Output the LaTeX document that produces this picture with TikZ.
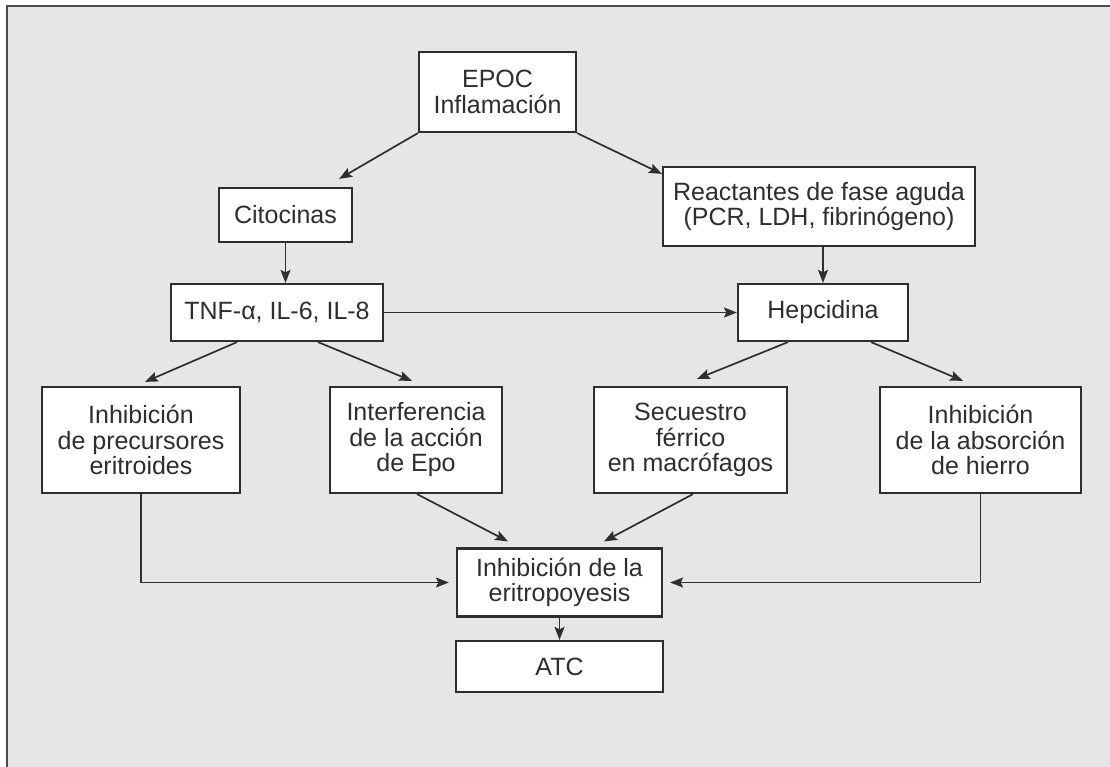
\documentclass[tikz,border=0pt]{standalone}
\usepackage{fontspec}
\setmainfont{Liberation Sans}
\usetikzlibrary{arrows.meta}
\definecolor{bggray}{HTML}{E6E6E6}
\definecolor{framegray}{HTML}{4A4A4A}
\definecolor{ink}{HTML}{2E2E2E}
\begin{document}
\begin{tikzpicture}[x=1pt,y=-1pt,
  box/.style={draw=ink, line width=2.2pt, fill=white, text=ink, align=center,
    inner sep=0pt, font=\fontsize{25}{25.5}\selectfont},
  conn/.style={draw=ink, line width=1.7pt,
    -{Stealth[length=13pt,width=10pt,inset=2.5pt]}}]
\useasboundingbox (0,0) rectangle (1110,767);
\fill[white] (0,0) rectangle (1110,767);
\fill[bggray] (7,6) rectangle (1112,769);
\draw[framegray, line width=2.5pt] (7,769) -- (7,6) -- (1112,6);

\node[box, minimum width=157pt, minimum height=80pt] (epoc) at (497.5,92) {EPOC\\Inflamación};
\node[box, minimum width=133pt, minimum height=54pt] (cito) at (285.5,215) {Citocinas};
\node[box, minimum width=312pt, minimum height=79pt] (react) at (819,206.5) {Reactantes de fase aguda\\(PCR, LDH, fibrinógeno)};
\node[box, minimum width=212pt, minimum height=57pt] (tnf) at (277,312.5) {TNF-α, IL-6, IL-8};
\node[box, minimum width=170pt, minimum height=57pt] (hep) at (823,312.5) {Hepcidina};
\node[box, minimum width=198pt, minimum height=106pt] (inh1) at (141,440) {Inhibición\\de precursores\\eritroides};
\node[box, minimum width=172pt, minimum height=106pt] (interf) at (416,440) {Interferencia\\de la acción\\de Epo};
\node[box, minimum width=193pt, minimum height=106pt] (secu) at (690.5,440) {Secuestro\\férrico\\en macrófagos};
\node[box, minimum width=201pt, minimum height=106pt] (abs) at (980.5,440) {Inhibición\\de la absorción\\de hierro};
\node[box, minimum width=205pt, minimum height=68pt] (eri) at (559.5,582.5) {Inhibición de la\\eritropoyesis};
\node[box, minimum width=207pt, minimum height=51pt] (atc) at (559.5,666.5) {ATC};

\draw[conn] (epoc.south west) -- ([xshift=-14pt,yshift=8pt]cito.north east);
\draw[conn] (epoc.south east) -- ([yshift=-8pt]react.north west);
\draw[conn] (cito.south) -- (cito.south |- tnf.north);
\draw[conn] (hep.north |- react.south) -- (hep.north);
\draw[conn] (tnf.east) -- (hep.west);
\draw[conn] ([xshift=-40pt]tnf.south) -- ([xshift=4pt,yshift=4pt]inh1.north);
\draw[conn] ([xshift=41pt]tnf.south) -- ([xshift=-4pt,yshift=5pt]interf.north);
\draw[conn] ([xshift=-35pt]hep.south) -- ([xshift=6.5pt,yshift=7pt]secu.north);
\draw[conn] ([xshift=48pt]hep.south) -- ([xshift=-17.5pt,yshift=5pt]abs.north);
\draw[conn] ([xshift=1pt]interf.south) -- ([xshift=-51.5pt,yshift=6pt]eri.north);
\draw[conn] ([xshift=2.5pt]secu.south) -- ([xshift=44.5pt,yshift=6pt]eri.north);
\draw[conn] (inh1.south) |- ([xshift=-7pt]eri.west);
\draw[conn] (abs.south) |- ([xshift=7pt]eri.east);
\draw[conn] (eri.south) -- (atc.north);
\end{tikzpicture}
\end{document}
